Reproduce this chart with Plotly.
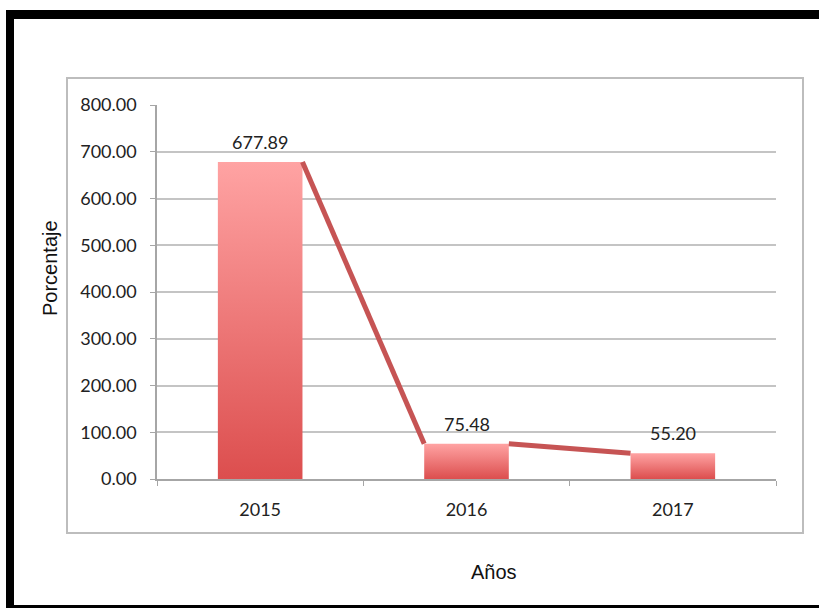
import plotly.graph_objects as go

years = ["2015", "2016", "2017"]
values = [677.89, 75.48, 55.20]
y_ticks = [0, 100, 200, 300, 400, 500, 600, 700, 800]
x_title = "Años"
y_title = "Porcentaje"

W, H = 819, 608
bar_w = 0.41
dark, light = "#DC4E4E", "#FFA3A3"
line_col = "#C65454"
tick_font = dict(family="Lato, Liberation Sans, sans-serif", size=18, color="#222222")

fig = go.Figure()

# bars (gradient filled polygons on the axes)
for i, v in enumerate(values):
    x0, x1 = i - bar_w / 2, i + bar_w / 2
    fig.add_trace(go.Scatter(
        x=[x0, x1, x1, x0, x0], y=[0, 0, v, v, 0],
        mode="lines", line=dict(width=0), fill="toself",
        fillgradient=dict(type="vertical",
                          colorscale=[[0, dark], [1, light]]),
        hoverinfo="skip", showlegend=False))

# series lines between bar tops
lx, ly = [], []
for i in range(len(values) - 1):
    lx += [i + bar_w / 2, i + 1 - bar_w / 2, None]
    ly += [values[i], values[i + 1], None]
fig.add_trace(go.Scatter(x=lx, y=ly, mode="lines",
                         line=dict(color=line_col, width=5),
                         hoverinfo="skip", showlegend=False))

# data labels
for i, v in enumerate(values):
    fig.add_annotation(x=i, y=v, text=f"{v:.2f}", showarrow=False,
                       yshift=20, yanchor="middle", font=tick_font)

fig.update_xaxes(
    range=[-0.5, 2.5], tickmode="array", tickvals=list(range(len(years))),
    ticktext=years, ticks="", showgrid=False, zeroline=False,
    showline=True, linecolor="#A6A6A6", linewidth=1.5,
    tickfont=tick_font, ticklabelstandoff=14, automargin=False,
    minor=dict(tickmode="array", tickvals=[-0.5, 0.5, 1.5, 2.5], ticks="outside",
               ticklen=5, tickcolor="#A6A6A6", showgrid=False),
    domain=[157 / W, 776 / W], fixedrange=True)
fig.update_yaxes(
    range=[0, 800], tickmode="array", tickvals=y_ticks,
    ticktext=[f"{t:.2f}" for t in y_ticks], ticks="outside", ticklen=5,
    tickcolor="#A6A6A6", showgrid=True, gridcolor="#C4C4C4", gridwidth=1.6,
    zeroline=False, showline=True, linecolor="#A6A6A6", linewidth=1.5,
    tickfont=tick_font, ticklabelstandoff=10, automargin=False,
    domain=[1 - 479 / H, 1 - 105 / H], fixedrange=True)

# axis titles
title_font = dict(family="Liberation Sans, Arial, sans-serif", size=20, color="#111111")
fig.add_annotation(xref="paper", yref="paper", x=50 / W, y=1 - 268 / H,
                   text=y_title, textangle=-90, showarrow=False, font=title_font,
                   xanchor="center", yanchor="middle")
fig.add_annotation(xref="paper", yref="paper", x=494 / W, y=1 - 572 / H,
                   text=x_title, showarrow=False, font=title_font,
                   xanchor="center", yanchor="middle")

# frames
shapes = [
    dict(type="rect", xref="paper", yref="paper", x0=67 / W, x1=803 / W,
         y0=1 - 533 / H, y1=1 - 78 / H, line=dict(color="#BDBDBD", width=2),
         layer="below"),
    dict(type="rect", xref="paper", yref="paper", x0=6 / W, x1=14 / W,
         y0=0, y1=1 - 10 / H, fillcolor="black", line=dict(width=0)),
    dict(type="rect", xref="paper", yref="paper", x0=6 / W, x1=1,
         y0=1 - 19 / H, y1=1 - 10 / H, fillcolor="black", line=dict(width=0)),
    dict(type="rect", xref="paper", yref="paper", x0=6 / W, x1=1,
         y0=0, y1=1 - 605 / H, fillcolor="black", line=dict(width=0)),
]

fig.update_layout(width=W, height=H, margin=dict(l=0, r=0, t=0, b=0, pad=0),
                  autosize=False,
                  paper_bgcolor="white", plot_bgcolor="white",
                  shapes=shapes, showlegend=False)

fig.write_html("out.html")
